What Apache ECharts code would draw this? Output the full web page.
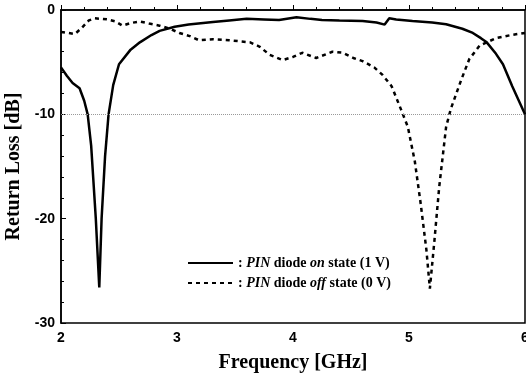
<!DOCTYPE html>
<html>
<head>
<meta charset="utf-8">
<script src="https://cdn.jsdelivr.net/npm/echarts@6/dist/echarts.min.js"></script>
<style>html,body{margin:0;padding:0;background:#fff}#c{width:526px;height:378px}</style>
</head>
<body>
<div id="c"></div>
<script>
var onFreq = [2.00,2.05,2.10,2.16,2.20,2.23,2.26,2.30,2.33,2.35,2.38,2.41,2.45,2.50,2.60,2.68,2.78,2.85,2.98,3.10,3.31,3.45,3.60,3.75,3.88,4.03,4.15,4.25,4.40,4.60,4.72,4.79,4.83,4.89,5.03,5.20,5.32,5.46,5.55,5.62,5.67,5.75,5.81,5.89,6.00];
var onLoss = [-5.5,-6.3,-7.0,-7.5,-8.7,-10,-13,-20,-26.6,-20,-14,-10,-7.2,-5.2,-3.8,-3.1,-2.4,-2.0,-1.6,-1.4,-1.15,-1.0,-0.85,-0.9,-0.95,-0.7,-0.85,-0.95,-1.0,-1.05,-1.2,-1.4,-0.8,-0.9,-1.05,-1.2,-1.37,-1.8,-2.2,-2.7,-3.1,-4.2,-5.2,-7.3,-10];
var offFreq = [2.00,2.06,2.12,2.18,2.24,2.29,2.35,2.40,2.47,2.53,2.60,2.68,2.76,2.85,2.94,3.02,3.11,3.19,3.31,3.45,3.63,3.71,3.80,3.91,4.00,4.08,4.20,4.34,4.43,4.52,4.60,4.70,4.77,4.85,4.93,4.99,5.05,5.10,5.15,5.18,5.22,5.26,5.32,5.36,5.45,5.52,5.61,5.75,5.88,6.00];
var offLoss = [-2.1,-2.2,-2.3,-1.7,-1.0,-0.8,-0.85,-0.9,-1.1,-1.5,-1.25,-1.1,-1.3,-1.5,-1.8,-2.2,-2.5,-2.9,-2.8,-2.9,-3.1,-3.5,-4.3,-4.8,-4.5,-4.1,-4.6,-4.0,-4.1,-4.6,-4.9,-5.5,-6.2,-7.3,-9.5,-11.2,-14.5,-18.5,-23,-26.7,-22,-17,-11.2,-9.5,-6.7,-4.7,-3.4,-2.7,-2.4,-2.2];
var xTicks = {min: 2, max: 6, interval: 1};
var yTicks = {min: -30, max: 0, interval: 10};
var refLine = -10;
var seriesNames = ['on', 'off'];

function pairs(xs, ys) { return xs.map(function (x, i) { return [x, ys[i]]; }); }

var chart = echarts.init(document.getElementById('c'));
var serifBold = {fontFamily: 'Liberation Serif', fontWeight: 'bold', color: '#000'};
chart.setOption({
  animation: false,
  backgroundColor: '#fff',
  grid: {left: 61, right: 1, top: 10, bottom: 55, show: true, borderColor: '#000', borderWidth: 1.5,
         containLabel: false, outerBoundsMode: 'none'},
  legend: {
    orient: 'vertical', left: 187, top: 256, padding: 0, itemWidth: 45, itemHeight: 10, itemGap: 6,
    data: seriesNames,
    itemStyle: {opacity: 0},
    formatter: function (n) {
      return n === 'on' ? ': {i|PIN} diode {i|on} state (1 V)' : ': {i|PIN} diode {i|off} state (0 V)';
    },
    textStyle: {fontFamily: 'Liberation Serif', fontWeight: 'bold', fontSize: 14, color: '#000',
      rich: {i: {fontFamily: 'Liberation Serif', fontWeight: 'bold', fontStyle: 'italic', fontSize: 14, color: '#000'}}}
  },
  xAxis: {
    type: 'value', min: xTicks.min, max: xTicks.max, interval: xTicks.interval,
    name: 'Frequency [GHz]', nameLocation: 'middle', nameGap: 30,
    nameTextStyle: Object.assign({fontSize: 20}, serifBold),
    axisLine: {lineStyle: {color: '#000', width: 1.5}},
    axisTick: {inside: true, length: 5, lineStyle: {color: '#000'}},
    minorTick: {show: true, splitNumber: 5, length: 3, lineStyle: {color: '#000'}},
    axisLabel: {fontFamily: 'Liberation Sans', fontWeight: 'bold', fontSize: 14, color: '#000', margin: 8},
    splitLine: {show: false}
  },
  yAxis: {
    type: 'value', min: yTicks.min, max: yTicks.max, interval: yTicks.interval,
    name: 'Return Loss [dB]', nameLocation: 'middle', nameGap: 36,
    nameTextStyle: Object.assign({fontSize: 20}, serifBold),
    axisLine: {lineStyle: {color: '#000', width: 1.5}},
    axisTick: {inside: true, length: 5, lineStyle: {color: '#000'}},
    minorTick: {show: true, splitNumber: 5, length: 3, lineStyle: {color: '#000'}},
    axisLabel: {fontFamily: 'Liberation Sans', fontWeight: 'bold', fontSize: 14, color: '#000', margin: 6},
    splitLine: {show: false}
  },
  series: [
    {name: 'on', type: 'line', symbol: 'none', data: pairs(onFreq, onLoss),
     lineStyle: {color: '#000', width: 2.5}, itemStyle: {color: '#000'},
     markLine: {silent: true, symbol: 'none', label: {show: false},
       lineStyle: {color: '#999', type: 'dotted', width: 1}, data: [{yAxis: refLine}]}},
    {name: 'off', type: 'line', symbol: 'none', data: pairs(offFreq, offLoss),
     lineStyle: {color: '#000', width: 2.5, type: [4, 4]}, itemStyle: {color: '#000'}}
  ]
});
</script>
</body>
</html>
